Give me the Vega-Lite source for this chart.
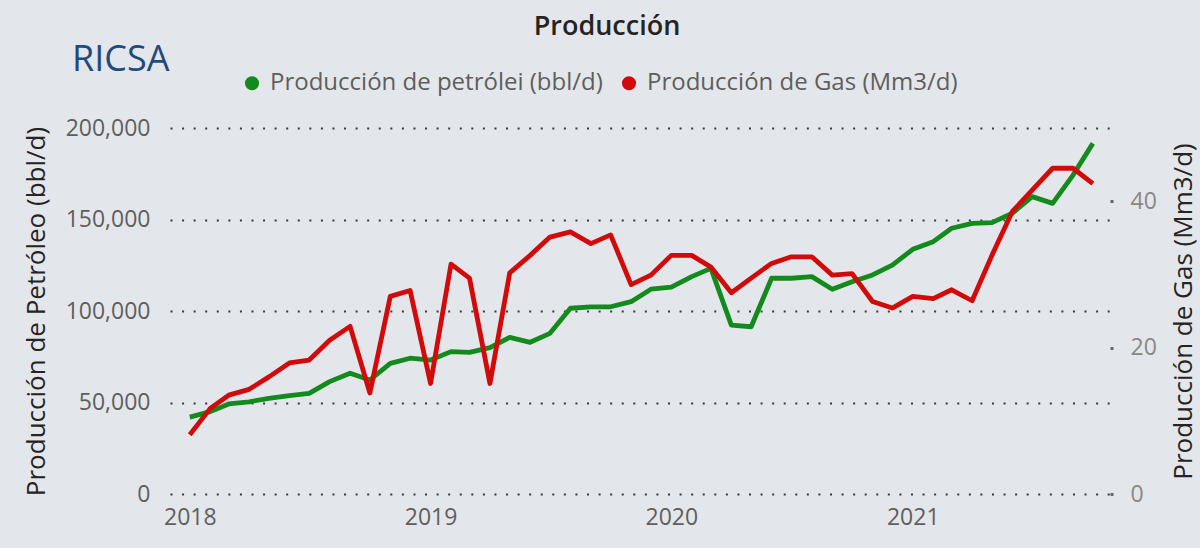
{
  "$schema": "https://vega.github.io/schema/vega-lite/v6.json",
  "width": 940,
  "height": 366,
  "autosize": {"type": "none"},
  "padding": {"left": 170, "top": 128, "right": 90, "bottom": 54},
  "background": "#e3e7eb",
  "title": {"text": "Producción", "anchor": "middle", "frame": "group", "dx": -33, "offset": 30, "fontSize": 27, "font": "Open Sans", "fontWeight": 600, "color": "#252423"},
  "data": {
    "values": [
      {"fecha": "2018-01-01", "petroleo": 42000, "gas": 8.1},
      {"fecha": "2018-02-01", "petroleo": 45000, "gas": 11.7},
      {"fecha": "2018-03-01", "petroleo": 49200, "gas": 13.5},
      {"fecha": "2018-04-01", "petroleo": 50400, "gas": 14.3},
      {"fecha": "2018-05-01", "petroleo": 52300, "gas": 16.0},
      {"fecha": "2018-06-01", "petroleo": 53700, "gas": 17.9},
      {"fecha": "2018-07-01", "petroleo": 55000, "gas": 18.3},
      {"fecha": "2018-08-01", "petroleo": 61400, "gas": 21.0},
      {"fecha": "2018-09-01", "petroleo": 66000, "gas": 22.9},
      {"fecha": "2018-10-01", "petroleo": 62300, "gas": 13.8},
      {"fecha": "2018-11-01", "petroleo": 71400, "gas": 27.0},
      {"fecha": "2018-12-01", "petroleo": 74200, "gas": 27.8},
      {"fecha": "2019-01-01", "petroleo": 73200, "gas": 15.1},
      {"fecha": "2019-02-01", "petroleo": 77800, "gas": 31.4},
      {"fecha": "2019-03-01", "petroleo": 77400, "gas": 29.5},
      {"fecha": "2019-04-01", "petroleo": 80000, "gas": 15.1},
      {"fecha": "2019-05-01", "petroleo": 85600, "gas": 30.2},
      {"fecha": "2019-06-01", "petroleo": 82900, "gas": 32.6},
      {"fecha": "2019-07-01", "petroleo": 87800, "gas": 35.1},
      {"fecha": "2019-08-01", "petroleo": 101500, "gas": 35.8},
      {"fecha": "2019-09-01", "petroleo": 102300, "gas": 34.2},
      {"fecha": "2019-10-01", "petroleo": 102300, "gas": 35.4},
      {"fecha": "2019-11-01", "petroleo": 105100, "gas": 28.6},
      {"fecha": "2019-12-01", "petroleo": 111900, "gas": 29.9},
      {"fecha": "2020-01-01", "petroleo": 113000, "gas": 32.6},
      {"fecha": "2020-02-01", "petroleo": 118800, "gas": 32.6},
      {"fecha": "2020-03-01", "petroleo": 123300, "gas": 31.0},
      {"fecha": "2020-04-01", "petroleo": 92300, "gas": 27.5},
      {"fecha": "2020-05-01", "petroleo": 91400, "gas": 29.5},
      {"fecha": "2020-06-01", "petroleo": 117900, "gas": 31.5},
      {"fecha": "2020-07-01", "petroleo": 117900, "gas": 32.4},
      {"fecha": "2020-08-01", "petroleo": 118800, "gas": 32.4},
      {"fecha": "2020-09-01", "petroleo": 111900, "gas": 29.9},
      {"fecha": "2020-10-01", "petroleo": 116000, "gas": 30.1},
      {"fecha": "2020-11-01", "petroleo": 119700, "gas": 26.3},
      {"fecha": "2020-12-01", "petroleo": 125100, "gas": 25.4},
      {"fecha": "2021-01-01", "petroleo": 133700, "gas": 27.0},
      {"fecha": "2021-02-01", "petroleo": 137900, "gas": 26.7},
      {"fecha": "2021-03-01", "petroleo": 145200, "gas": 27.9},
      {"fecha": "2021-04-01", "petroleo": 147900, "gas": 26.4},
      {"fecha": "2021-05-01", "petroleo": 148300, "gas": 32.6},
      {"fecha": "2021-06-01", "petroleo": 153400, "gas": 38.6},
      {"fecha": "2021-07-01", "petroleo": 162500, "gas": 41.5},
      {"fecha": "2021-08-01", "petroleo": 158800, "gas": 44.5},
      {"fecha": "2021-09-01", "petroleo": 174300, "gas": 44.5},
      {"fecha": "2021-10-01", "petroleo": 191600, "gas": 42.4}
    ]
  },
  "encoding": {
    "x": {
      "field": "fecha",
      "type": "temporal",
      "scale": {"type": "utc", "domain": [{"year": 2017, "month": 12, "date": 2, "utc": true}, {"year": 2021, "month": 10, "date": 27, "utc": true}], "nice": false},
      "axis": {
        "title": null,
        "values": [{"year": 2018, "month": 1, "date": 1, "utc": true}, {"year": 2019, "month": 1, "date": 1, "utc": true}, {"year": 2020, "month": 1, "date": 1, "utc": true}, {"year": 2021, "month": 1, "date": 1, "utc": true}],
        "format": "%Y",
        "grid": false,
        "ticks": false,
        "tickSize": 0,
        "domain": false,
        "labelPadding": 12,
        "labelFlush": false,
        "labelOverlap": false,
        "labelFont": "Open Sans",
        "labelFontSize": 23,
        "labelColor": "#605e5c"
      }
    }
  },
  "layer": [
    {
      "mark": {"type": "line", "strokeWidth": 4.8, "strokeJoin": "round"},
      "encoding": {
        "y": {
          "field": "petroleo",
          "type": "quantitative",
          "scale": {"domain": [0, 200000], "nice": false},
          "axis": {
            "title": "Producción de Petróleo (bbl/d)",
            "values": [0, 50000, 100000, 150000, 200000],
            "format": ",.0f",
            "grid": true,
            "gridColor": "#3a3a3a",
            "gridWidth": 2,
            "gridDash": [2, 9.57],
            "ticks": false,
            "tickSize": 0,
            "domain": false,
            "labelPadding": 20,
            "labelFont": "Open Sans",
            "labelFontSize": 23,
            "labelColor": "#605e5c",
            "titleFont": "Open Sans",
            "titleFontSize": 26,
            "titleFontWeight": "normal",
            "titleColor": "#252423",
            "titlePadding": 16
          }
        },
        "color": {
          "datum": "Producción de petrólei (bbl/d)",
          "type": "nominal",
          "scale": {"domain": ["Producción de petrólei (bbl/d)", "Producción de Gas (Mm3/d)"], "range": ["#138b1c", "#d20a0a"]},
          "legend": {
            "orient": "none",
            "legendX": -98,
            "legendY": -57,
            "direction": "horizontal",
            "columns": 2,
            "title": "RICSA",
            "titleOrient": "left",
            "titleAnchor": "start",
            "titleBaseline": "alphabetic",
            "titleFont": "Open Sans",
            "titleFontSize": 36,
            "titleFontWeight": 400,
            "titleColor": "#1f4a7a",
            "titlePadding": 70,
            "labelFont": "Open Sans",
            "labelFontSize": 24,
            "labelColor": "#605e5c",
            "labelLimit": 600,
            "labelOffset": 6,
            "columnPadding": 8,
            "padding": 0,
            "symbolType": "circle",
            "symbolSize": 50,
            "symbolStrokeWidth": 7
          }
        }
      }
    },
    {
      "mark": {"type": "line", "strokeWidth": 4.8, "strokeJoin": "round"},
      "encoding": {
        "y": {
          "field": "gas",
          "type": "quantitative",
          "scale": {"domain": [0, 50], "nice": false},
          "axis": {
            "orient": "right",
            "title": "Producción de Gas (Mm3/d)",
            "values": [0, 20, 40],
            "grid": false,
            "domain": false,
            "ticks": true,
            "tickSize": 3,
            "tickWidth": 3,
            "tickColor": "#666666",
            "labelPadding": 17,
            "labelFont": "Open Sans",
            "labelFontSize": 23,
            "labelColor": "#8a8886",
            "titleFont": "Open Sans",
            "titleFontSize": 26,
            "titleFontWeight": "normal",
            "titleColor": "#252423",
            "titleAngle": 270,
            "titleBaseline": "top",
            "titlePadding": 14
          }
        },
        "color": {"datum": "Producción de Gas (Mm3/d)", "type": "nominal"}
      }
    }
  ],
  "resolve": {"scale": {"y": "independent"}},
  "config": {"view": {"stroke": null}}
}
